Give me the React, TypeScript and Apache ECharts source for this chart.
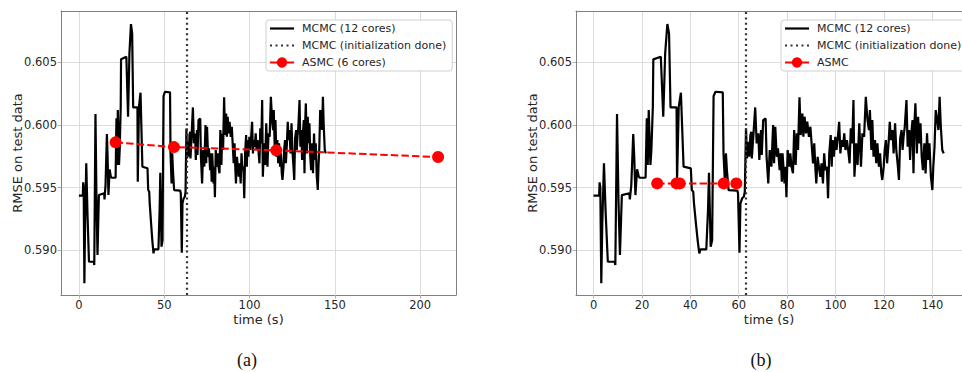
import React, { useEffect, useRef } from "react";
import * as echarts from "echarts";

// MCMC (12 cores) trace: time (s) and RMSE on test data
const mcmcTime = [
  0, 2.3, 2.5, 2.8, 3.2, 3.6, 4.3, 5.0, 5.9, 8.7, 9.0, 9.7, 10.3, 10.9, 11.7, 14.8, 15.0, 15.6, 16.4, 16.8,
  17.3, 18.0, 18.7, 19.1, 21.5, 22.0, 22.4, 22.8, 23.5, 23.9, 24.5, 24.7, 27.8, 28.8, 29.6, 30.5, 31.2, 31.8,
  34.3, 34.5, 35.2, 36.1, 37.2, 40.2, 40.6, 41.2, 41.5, 42.3, 43.0, 43.7, 44.2, 46.6, 47.3, 47.7, 48.4, 49.0,
  49.6, 50.4, 53.4, 53.7, 54.3, 54.7, 55.1, 55.8, 59.4, 59.7, 60.3, 60.7, 61.4, 62.1, 62.5, 63.0, 63.4, 63.8,
  64.4, 64.8, 65.2, 65.4, 66.1, 66.8, 67.4, 68.1, 68.5, 69.2,
  69.5, 70.1, 71.1, 71.5, 72.2, 72.8, 73.5, 74.2, 74.6, 75.1, 75.7, 76.2, 76.9, 77.3, 77.8, 78.1, 78.9, 79.3,
  79.7, 80.2, 80.9, 81.3, 81.8, 82.4, 82.9, 83.5, 84.0, 84.5, 85.1, 85.6, 86.3, 86.7, 87.2, 87.8, 88.3, 89.0,
  89.6, 90.3, 90.7, 91.2, 91.7, 92.05, 92.6, 93.1, 93.7, 94.2, 94.8, 95.3, 95.8, 96.4, 96.9, 97.4, 98.0, 98.4,
  98.8, 99.3, 99.9, 100.4, 100.9, 101.5, 102.0, 102.5, 103.1, 103.6, 104.1, 104.7, 105.2, 105.8, 106.3, 106.9,
  107.4,
  107.8, 108.5, 109.1, 109.8, 110.5, 111.1, 111.8, 112.5, 113.2, 113.8, 114.2, 114.8, 115.2, 115.7, 116.3,
  116.8, 117.3, 117.9, 118.4, 118.9, 119.3, 119.9, 120.3, 120.8, 121.3, 121.9, 122.4, 122.9, 123.5, 124.0,
  124.6, 125.1, 125.7, 126.2, 126.7, 127.3, 127.7, 128.1, 128.6, 129.3, 129.8, 130.4, 130.8, 131.3, 131.8,
  132.2, 132.6, 133.0, 133.6, 134.1, 134.7, 135.1, 135.6, 136.1, 136.7, 137.2, 137.8, 138.3, 138.8, 139.4,
  140.0, 140.4, 140.9, 141.4, 142.0, 142.5, 143.0, 143.5, 144.1, 144.7,
];
const mcmcRmse = [
  0.59435, 0.59435, 0.59541, 0.5950, 0.58737, 0.5920, 0.59693, 0.5930, 0.58909, 0.58909, 0.58883, 0.60085,
  0.5940, 0.58963, 0.5944, 0.59454, 0.59406, 0.5952, 0.59926, 0.5975, 0.5944, 0.59645, 0.59586, 0.59578,
  0.59578, 0.60051, 0.59679, 0.60117, 0.59679, 0.59799, 0.60143, 0.60521, 0.60541, 0.60064, 0.60568, 0.60802,
  0.60728, 0.60138, 0.60138, 0.59546, 0.60143, 0.60255, 0.59666, 0.59653, 0.5948, 0.59467, 0.59374, 0.59215,
  0.59082, 0.58976, 0.59008, 0.59008, 0.59321, 0.59618, 0.59029, 0.5908, 0.60228, 0.60263, 0.60258, 0.59772,
  0.59533, 0.59772, 0.59639, 0.5948, 0.59475, 0.59454, 0.58981, 0.59374, 0.59414, 0.59427, 0.59467, 0.59971,
  0.59732, 0.59865, 0.59745, 0.59918, 0.59944, 0.59732, 0.59931, 0.60138, 0.59852, 0.59931, 0.59719, 0.59958,
  0.59759, 0.60037, 0.6005, 0.59745, 0.59533, 0.59799, 0.59666, 0.59998, 0.59693, 0.59984, 0.59745, 0.59812,
  0.59639, 0.59772, 0.59546, 0.59772, 0.59533, 0.59666, 0.59422, 0.59799, 0.59666, 0.59772, 0.59666, 0.59613,
  0.59958, 0.59679, 0.59931, 0.59799, 0.60218, 0.59918, 0.6009, 0.59904, 0.60064, 0.59931, 0.60024, 0.59904,
  0.59984, 0.59799, 0.59693, 0.59852, 0.59639, 0.59533, 0.59745, 0.59666, 0.59586, 0.59693, 0.59533, 0.59772,
  0.59639, 0.59666, 0.59414, 0.59772, 0.59918, 0.59666, 0.59878, 0.59745, 0.59904, 0.59799, 0.59891, 0.60024,
  0.59772, 0.59878, 0.59825, 0.59931, 0.59799, 0.59878, 0.59799, 0.59693, 0.59971, 0.59852, 0.60197,
  0.59586, 0.59852, 0.59679, 0.60011, 0.59666, 0.59931, 0.59904, 0.60223, 0.60037, 0.59958, 0.60117, 0.59799,
  0.60037, 0.59745, 0.59878, 0.59693, 0.59852, 0.59666, 0.59772, 0.59613, 0.5956, 0.59666, 0.59799, 0.59878,
  0.59693, 0.59852, 0.60024, 0.59878, 0.59958, 0.59772, 0.60011, 0.59799, 0.59679, 0.5956, 0.59891, 0.59958,
  0.59799, 0.59904, 0.59984, 0.60197, 0.59825, 0.59958, 0.59719, 0.59931, 0.60037, 0.59613, 0.60011, 0.6017,
  0.59772, 0.60064, 0.59852, 0.60011, 0.59745, 0.59639, 0.59852, 0.59613, 0.59931, 0.59719, 0.59852, 0.59586,
  0.5948, 0.59666, 0.59825, 0.60117, 0.60037, 0.59958, 0.60223, 0.59984, 0.59799, 0.59772,
];

// ASMC results
const asmcTimeA = [21.5, 55.7, 115.7, 210.5];
const asmcRmseA = [0.5986, 0.59822, 0.59796, 0.59743];
const asmcTimeB = [26.3, 34.3, 35.6, 53.8, 59.0];
const asmcRmseB = [0.59533, 0.59533, 0.59533, 0.59533, 0.59533];

const initDoneTime = 63;

const xTicksA = [0, 50, 100, 150, 200];
const xTicksB = [0, 20, 40, 60, 80, 100, 120, 140];
const yTicks = [0.59, 0.595, 0.6, 0.605];

const seriesNames = {
  mcmc: "MCMC (12 cores)",
  init: "MCMC (initialization done)",
  asmcA: "ASMC (6 cores)",
  asmcB: "ASMC",
};
const captions = ["(a)", "(b)"];

const zip = (a: number[], b: number[]) => a.map((x, i) => [x, b[i]]);

const FONT = "DejaVu Sans";
const SPINE = "#808080";
const GRID = "#dcdcdc";
const TXT = "#262626";

// legend icons (solid line / dotted line), drawn in a 24-wide box
const ICON_SOLID = "path://M0,0 L24,0 L24,2.2 L0,2.2 Z";
const ICON_DOTTED =
  "path://M0,0 L2,0 L2,2 L0,2 Z M5.5,0 L7.5,0 L7.5,2 L5.5,2 Z M11,0 L13,0 L13,2 L11,2 Z M16.5,0 L18.5,0 L18.5,2 L16.5,2 Z M22,0 L24,0 L24,2 L22,2 Z";

export default function App() {
  const ref = useRef<HTMLDivElement>(null);
  useEffect(() => {
    if (!ref.current) return;
    const chart = echarts.init(ref.current, undefined, { renderer: "svg" });

    const mainX = (grid: number, min: number, max: number, ticks: number[]) => ({
      type: "value",
      gridIndex: grid,
      position: "bottom",
      min,
      max,
      name: "time (s)",
      nameLocation: "middle",
      nameGap: 18,
      nameMoveOverlap: false,
      nameTextStyle: { fontSize: 13, color: TXT, fontFamily: FONT },
      axisLine: { show: true, onZero: false, lineStyle: { color: SPINE, width: 1 } },
      axisTick: { show: true, length: 3.5, customValues: ticks, lineStyle: { color: "#b0b0b0" } },
      axisLabel: { customValues: ticks, fontSize: 11.5, color: TXT, margin: 4, fontFamily: FONT },
      splitLine: { show: true, lineStyle: { color: GRID, width: 1 } },
    });
    const frameX = (grid: number, min: number, max: number) => ({
      type: "value",
      gridIndex: grid,
      position: "top",
      min,
      max,
      axisLine: { show: true, onZero: false, lineStyle: { color: SPINE, width: 1 } },
      axisTick: { show: false },
      axisLabel: { show: false },
      splitLine: { show: false },
    });
    const mainY = (grid: number) => ({
      type: "value",
      gridIndex: grid,
      position: "left",
      min: 0.58644,
      max: 0.60906,
      name: "RMSE on test data",
      nameLocation: "middle",
      nameGap: 37,
      nameMoveOverlap: false,
      nameTextStyle: { fontSize: 13, color: TXT, fontFamily: FONT },
      axisLine: { show: true, onZero: false, lineStyle: { color: SPINE, width: 1 } },
      axisTick: { show: true, length: 3.5, customValues: yTicks, lineStyle: { color: "#b0b0b0" } },
      axisLabel: {
        customValues: yTicks,
        fontSize: 11.5,
        color: TXT,
        margin: 4,
        fontFamily: FONT,
        formatter: (v: number) => v.toFixed(3),
      },
      splitLine: { show: true, lineStyle: { color: GRID, width: 1 } },
    });
    const frameY = (grid: number) => ({
      type: "value",
      gridIndex: grid,
      position: "right",
      min: 0.58644,
      max: 0.60906,
      axisLine: { show: true, onZero: false, lineStyle: { color: SPINE, width: 1 } },
      axisTick: { show: false },
      axisLabel: { show: false },
      splitLine: { show: false },
    });

    const mcmcSeries = (i: number) => ({
      name: seriesNames.mcmc,
      type: "line",
      xAxisIndex: i,
      yAxisIndex: i,
      data: zip(mcmcTime, mcmcRmse),
      symbol: "none",
      lineStyle: { color: "#000", width: 2.2 },
      itemStyle: { color: "#000" },
      z: 2,
    });
    const initSeries = (i: number) => ({
      name: seriesNames.init,
      type: "line",
      xAxisIndex: i,
      yAxisIndex: i,
      data: [],
      symbol: "none",
      lineStyle: { color: "#333", width: 2, type: [2, 3.3] },
      itemStyle: { color: "#333" },
      z: 3,
      markLine: {
        silent: true,
        symbol: ["none", "none"],
        label: { show: false },
        lineStyle: { color: "#333", width: 2.2, type: [2, 3.3] },
        data: [{ xAxis: initDoneTime }],
      },
    });
    const asmcSeries = (i: number, name: string, t: number[], v: number[]) => ({
      name,
      type: "line",
      xAxisIndex: i,
      yAxisIndex: i,
      data: zip(t, v),
      symbol: "circle",
      symbolSize: 12,
      lineStyle: { color: "#ff0000", width: 2, type: [7.4, 3.2] },
      itemStyle: { color: "#ff0000" },
      z: 4,
    });

    const legendBase = {
      orient: "vertical",
      top: 20,
      backgroundColor: "#fff",
      borderColor: "#d0d0d0",
      borderWidth: 1,
      borderRadius: 3,
      padding: [3, 6, 3, 3],
      itemGap: 6,
      itemWidth: 24,
      itemHeight: 13,
      selectedMode: false,
      textStyle: { fontSize: 11, color: TXT, fontFamily: FONT, padding: [0, 0, 0, 3] },
    };
    const legendItems = (asmcName: string) => [
      { name: seriesNames.mcmc, icon: ICON_SOLID, itemStyle: { color: "#000" } },
      { name: seriesNames.init, icon: ICON_DOTTED, itemStyle: { color: "#333" } },
      { name: asmcName, lineStyle: { type: "solid" } },
    ];

    chart.setOption({
      animation: false,
      backgroundColor: "#fff",
      textStyle: { fontFamily: FONT },
      grid: [
        { left: 61, top: 11, width: 395, height: 284 },
        { left: 576, top: 11, width: 395, height: 284 },
      ],
      xAxis: [
        mainX(0, -10.5, 221, xTicksA),
        mainX(1, -7.25, 152.25, xTicksB),
        frameX(0, -10.5, 221),
        frameX(1, -7.25, 152.25),
      ],
      yAxis: [mainY(0), mainY(1), frameY(0), frameY(1)],
      legend: [
        { ...legendBase, left: 266, data: legendItems(seriesNames.asmcA) },
        { ...legendBase, left: 781, data: legendItems(seriesNames.asmcB) },
      ],
      series: [
        mcmcSeries(0),
        initSeries(0),
        asmcSeries(0, seriesNames.asmcA, asmcTimeA, asmcRmseA),
        mcmcSeries(1),
        initSeries(1),
        asmcSeries(1, seriesNames.asmcB, asmcTimeB, asmcRmseB),
      ],
      graphic: [
        {
          type: "text",
          x: 247,
          y: 360,
          style: {
            text: captions[0],
            fontSize: 18,
            fontFamily: "Liberation Serif",
            fill: "#111",
            align: "center",
            verticalAlign: "middle",
          },
        },
        {
          type: "text",
          x: 761,
          y: 360,
          style: {
            text: captions[1],
            fontSize: 18,
            fontFamily: "Liberation Serif",
            fill: "#111",
            align: "center",
            verticalAlign: "middle",
          },
        },
      ],
    });
    return () => chart.dispose();
  }, []);
  return (
    <div
      ref={ref}
      style={{ position: "absolute", left: 0, top: 0, width: 962, height: 372, background: "#fff" }}
    />
  );
}
